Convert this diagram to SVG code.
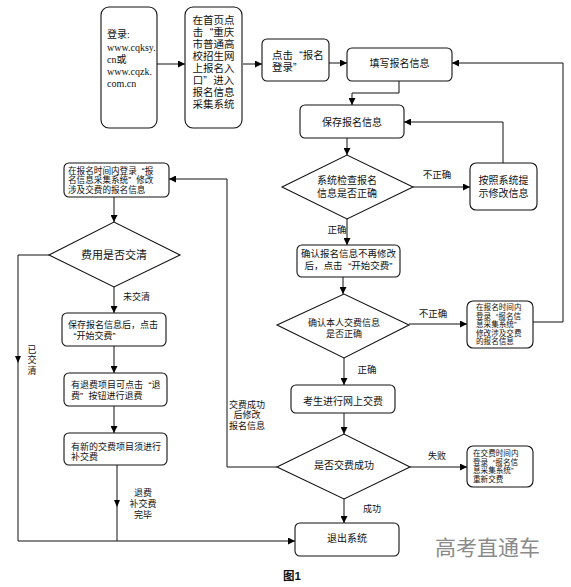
<svg xmlns="http://www.w3.org/2000/svg" width="571" height="587" viewBox="0 0 571 587">
<defs>
<marker id="ah" viewBox="0 0 8 8" refX="8" refY="4" markerWidth="7" markerHeight="7" markerUnits="userSpaceOnUse" orient="auto">
<path d="M0,0 L8,4 L0,8 Z" fill="#000"/>
</marker>
</defs>
<style>
.box{fill:#fff;stroke:#111;stroke-width:1.1}
.ln{fill:none;stroke:#111;stroke-width:1}
.t{font-family:"Liberation Sans","Noto Sans CJK SC",sans-serif;fill:#111}
.s{font-family:"Liberation Serif","Noto Sans CJK SC",serif;fill:#111}
.m{text-anchor:middle}
</style>
<rect width="571" height="587" fill="#fff"/>

<g id="connectors">
<path class="ln" d="M157,64 H185" marker-end="url(#ah)"/>
<path class="ln" d="M243,64 H262" marker-end="url(#ah)"/>
<path class="ln" d="M329,63 H347" marker-end="url(#ah)"/>
<path class="ln" d="M399,81 V93 H352 V105" marker-end="url(#ah)"/>
<path class="ln" d="M347,138 V155" marker-end="url(#ah)"/>
<path class="ln" d="M413,187 H470" marker-end="url(#ah)"/>
<path class="ln" d="M503,163 V122 H404" marker-end="url(#ah)"/>
<path class="ln" d="M347,219 V245" marker-end="url(#ah)"/>
<path class="ln" d="M343,277 V294" marker-end="url(#ah)"/>
<path class="ln" d="M409,324 H467" marker-end="url(#ah)"/>
<path class="ln" d="M533,322 H563 V63 H452" marker-end="url(#ah)"/>
<path class="ln" d="M344,358 V385" marker-end="url(#ah)"/>
<path class="ln" d="M344,413 V434" marker-end="url(#ah)"/>
<path class="ln" d="M410,467 H467" marker-end="url(#ah)"/>
<path class="ln" d="M344,499 V523" marker-end="url(#ah)"/>
<path class="ln" d="M277,467 H227 V179 H169" marker-end="url(#ah)"/>
<path class="ln" d="M114,197 V222" marker-end="url(#ah)"/>
<path class="ln" d="M114,287 V313" marker-end="url(#ah)"/>
<path class="ln" d="M114,346 V373" marker-end="url(#ah)"/>
<path class="ln" d="M114,406 V433" marker-end="url(#ah)"/>
<path class="ln" d="M49,255 H18 V541 H295" marker-end="url(#ah)"/>
<path class="ln" d="M117,465 V541"/>
<path d="M15,356 L21,356 L18,363 Z" fill="#000"/>
<path d="M114,500 L120,500 L117,507 Z" fill="#000"/>
<text class="t m" x="437" y="178" font-size="9.5">不正确</text>
<text class="t m" x="337" y="233" font-size="9.5">正确</text>
<text class="t m" x="433" y="317" font-size="9.5">不正确</text>
<text class="t m" x="367" y="373" font-size="9.5">正确</text>
<text class="t m" x="437" y="459" font-size="9">失败</text>
<text class="t m" x="372" y="512" font-size="9">成功</text>
<text class="t" x="123" y="300" font-size="9">未交清</text>
<text class="t m" font-size="9"><tspan x="32" y="353">已</tspan><tspan x="32" y="363.3">交</tspan><tspan x="32" y="373.6">清</tspan></text>
<text class="t m" font-size="9"><tspan x="143" y="496">退费</tspan><tspan x="143" y="507">补交费</tspan><tspan x="143" y="518">完毕</tspan></text>
<text class="t m" font-size="9"><tspan x="247" y="408">交费成功</tspan><tspan x="247" y="418.3">后修改</tspan><tspan x="247" y="428.6">报名信息</tspan></text>
</g>

<g id="n-login">
<rect class="box" x="101" y="7" width="56" height="121" rx="8"/>
<text class="s" font-size="10"><tspan x="107" y="38">登录:</tspan><tspan x="107" y="51">www.cqksy.</tspan><tspan x="107" y="63">cn或</tspan><tspan x="107" y="75">www.cqzk.</tspan><tspan x="107" y="87">com.cn</tspan></text>
</g>
<g id="n-home">
<rect class="box" x="185" y="7" width="57" height="121" rx="8"/>
<text class="t m" font-size="10.5"><tspan x="213.5" y="24">在首页点</tspan><tspan x="213.5" y="36">击<tspan dx="6.3">“</tspan>重庆</tspan><tspan x="213.5" y="48">市普通高</tspan><tspan x="213.5" y="60">校招生网</tspan><tspan x="213.5" y="72">上报名入</tspan><tspan x="213.5" y="84">口”<tspan dx="6.3">进</tspan>入</tspan><tspan x="213.5" y="96">报名信息</tspan><tspan x="213.5" y="108">采集系统</tspan></text>
</g>
<g id="n-click">
<rect class="box" x="262" y="39" width="67" height="42" rx="5"/>
<text class="t" font-size="10.5"><tspan x="272" y="59">点击<tspan dx="6.3">“</tspan>报名</tspan><tspan x="272" y="71">登录”</tspan></text>
</g>
<g id="n-fill">
<rect class="box" x="347" y="48" width="105" height="33" rx="5"/>
<text class="t m" x="399.5" y="67" font-size="10">填写报名信息</text>
</g>
<g id="n-save">
<rect class="box" x="300" y="105" width="104" height="33" rx="5"/>
<text class="t m" x="352" y="126" font-size="10">保存报名信息</text>
</g>
<g id="n-check">
<polygon class="box" points="282,187 347,155 413,187 347,219"/>
<text class="t m" font-size="10"><tspan x="347" y="184">系统检查报名</tspan><tspan x="347" y="197">信息是否正确</tspan></text>
</g>
<g id="n-modify">
<rect class="box" x="470" y="163" width="67" height="47" rx="6"/>
<text class="t m" font-size="10"><tspan x="503.5" y="184">按照系统提</tspan><tspan x="503.5" y="197">示修改信息</tspan></text>
</g>
<g id="n-confirm">
<rect class="box" x="297" y="245" width="103" height="32" rx="5"/>
<text class="t m" font-size="9.5"><tspan x="348.5" y="257">确认报名信息不再修改</tspan><tspan x="348.5" y="269">后，点击<tspan dx="5.7">“</tspan>开始交费”</tspan></text>
</g>
<g id="n-feecheck">
<polygon class="box" points="277,325 344,294 409,325 344,358"/>
<text class="t m" font-size="9"><tspan x="344" y="326">确认本人交费信息</tspan><tspan x="344" y="336.5">是否正确</tspan></text>
</g>
<g id="n-relogin">
<rect class="box" x="467" y="301" width="66" height="47" rx="6"/>
<text class="t" font-size="7.6"><tspan x="476" y="310">在报名时间内</tspan><tspan x="476" y="318.6">登录<tspan dx="4.6">“</tspan>报名信</tspan><tspan x="476" y="327.2">息采集系统”</tspan><tspan x="476" y="335.8">修改涉及交费</tspan><tspan x="476" y="344.4">的报名信息</tspan></text>
</g>
<g id="n-pay">
<rect class="box" x="291" y="385" width="104" height="28" rx="5"/>
<text class="t m" x="343" y="405" font-size="10">考生进行网上交费</text>
</g>
<g id="n-success">
<polygon class="box" points="277,467 344,434 410,467 344,499"/>
<text class="t m" x="344" y="469" font-size="10">是否交费成功</text>
</g>
<g id="n-repay">
<rect class="box" x="467" y="446" width="66" height="41" rx="6"/>
<text class="t" font-size="7.6"><tspan x="473" y="456">在交费时间内</tspan><tspan x="473" y="464.6">登录<tspan dx="4.6">“</tspan>报名信</tspan><tspan x="473" y="473.2">息采集系统”</tspan><tspan x="473" y="481.8">重新交费</tspan></text>
</g>
<g id="n-exit">
<rect class="box" x="295" y="523" width="104" height="33" rx="5"/>
<text class="t m" x="347" y="542" font-size="10">退出系统</text>
</g>
<g id="n-leftlogin">
<rect class="box" x="64" y="163" width="105" height="34" rx="5"/>
<text class="t" font-size="8.6"><tspan x="68" y="173.5">在报名时间内登录<tspan dx="5.1">“</tspan>报</tspan><tspan x="68" y="183.2">名信息采集系统”<tspan dx="5.1">修</tspan>改</tspan><tspan x="68" y="192.9">涉及交费的报名信息</tspan></text>
</g>
<g id="n-paid">
<polygon class="box" points="49,255 114,222 180,255 114,287"/>
<text class="t m" x="114" y="259" font-size="11">费用是否交清</text>
</g>
<g id="n-savestart">
<rect class="box" x="62" y="313" width="104" height="33" rx="5"/>
<text class="t" font-size="9"><tspan x="68" y="328.3">保存报名信息后，点击</tspan><tspan x="73.4" y="338.6">“开始交费”</tspan></text>
</g>
<g id="n-refund">
<rect class="box" x="64" y="373" width="103" height="33" rx="5"/>
<text class="t" font-size="9"><tspan x="71" y="388.3">有退费项目可点击<tspan dx="5.4">“</tspan>退</tspan><tspan x="71" y="398.6">费”<tspan dx="5.4">按</tspan>钮进行退费</tspan></text>
</g>
<g id="n-extra">
<rect class="box" x="64" y="433" width="103" height="32" rx="5"/>
<text class="t" font-size="9"><tspan x="71" y="449.5">有新的交费项目须进行</tspan><tspan x="71" y="459.8">补交费</tspan></text>
</g>

<text class="t" x="435" y="555" font-size="21" style="fill:#8a8a8a">高考直通车</text>
<text class="t" x="283" y="580" font-size="11.5" font-weight="bold">图1</text>
</svg>
